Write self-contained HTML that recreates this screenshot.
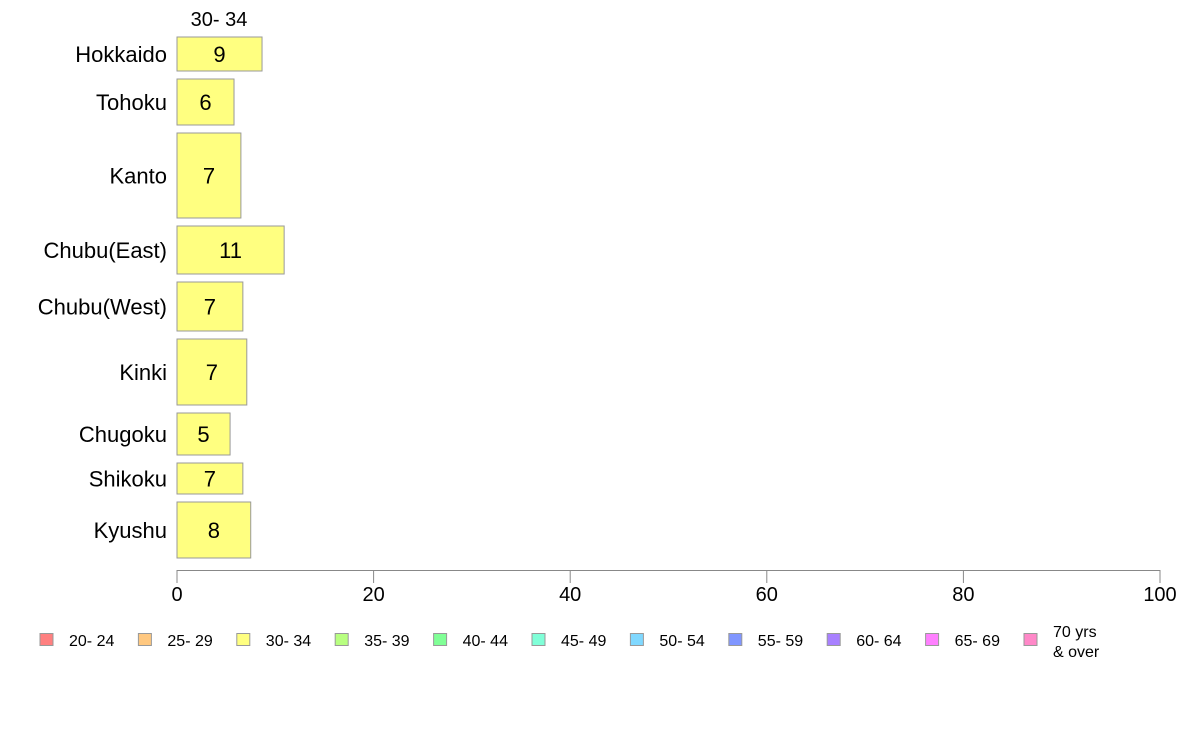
<!DOCTYPE html>
<html><head><meta charset="utf-8">
<style>
html,body{margin:0;padding:0;background:#fff;}
svg text{font-family:"Liberation Sans",Arial,sans-serif;}
</style></head>
<body>
<svg id="chart" width="1188" height="736" xmlns="http://www.w3.org/2000/svg"></svg>
<script>
const regions = ["Hokkaido","Tohoku","Kanto","Chubu(East)","Chubu(West)","Kinki","Chugoku","Shikoku","Kyushu"];
const values = [8.65,5.8,6.5,10.9,6.7,7.1,5.4,6.7,7.5];
const valueLabels = ["9","6","7","11","7","7","5","7","8"];
const rowWeights = [34,46,85,48,49,66,42,31,56];
const xTicks = [0,20,40,60,80,100];
const legendLabels = ["20- 24","25- 29","30- 34","35- 39","40- 44","45- 49","50- 54","55- 59","60- 64","65- 69","70 yrs|& over"];
const legendColors = ["#ff8080","#ffc880","#ffff80","#b8ff80","#80ff96","#80ffd8","#80d8ff","#8096ff","#a880ff","#ff80ff","#ff88c8"];

const svgEl = document.getElementById('chart');
const NS = 'http://www.w3.org/2000/svg';
function mk(tag, attrs, parent){const e=document.createElementNS(NS,tag);for(const k in attrs)e.setAttribute(k,attrs[k]);(parent||svgEl).appendChild(e);return e;}
const x0=177, x1=1160, xMax=100;
const xs = v => x0 + (v/xMax)*(x1-x0);
const topY=37, gap=8, totalH=558-37;
const sumW = rowWeights.reduce((a,b)=>a+b,0);
const unit = (totalH - gap*(regions.length-1))/sumW;

const header = mk('text',{x:219,y:26,'font-size':20,'text-anchor':'middle',fill:'#000'});


header.textContent='30- 34';

let yy=topY;
regions.forEach((r,i)=>{
  const h=rowWeights[i]*unit;
  const bar=mk('rect',{x:x0,y:yy,width:xs(values[i])-x0,height:h,fill:'#ffff80',stroke:'#999','stroke-width':1});
  
  
  const vl=mk('text',{x:(x0+xs(values[i]))/2,y:yy+h/2+8,'font-size':22,'text-anchor':'middle',fill:'#000'});
  
  
  vl.textContent=valueLabels[i];
  const cl=mk('text',{x:167,y:yy+h/2+8,'font-size':22,'text-anchor':'end',fill:'#000'});
  
  
  cl.textContent=r;
  yy+=h+gap;
});

const axis=mk('line',{x1:x0,y1:570.5,x2:x1,y2:570.5,stroke:'#888','stroke-width':1});


xTicks.forEach(t=>{
  const tk=mk('line',{x1:xs(t),y1:570,x2:xs(t),y2:583,stroke:'#888','stroke-width':1});
  
  
  const tl=mk('text',{x:xs(t),y:601,'font-size':20,'text-anchor':'middle',fill:'#000'});
  
  
  tl.textContent=t;
});

legendLabels.forEach((l,i)=>{
  const lx=40+i*98.4;
  const sw=mk('rect',{x:lx,y:633.5,width:13,height:12,fill:legendColors[i],stroke:'#999','stroke-width':1});
  
  
  const parts=l.split('|');
  if(parts.length===1){
    const t=mk('text',{x:lx+29,y:646,'font-size':16,fill:'#000'});
    
    
    t.textContent=l;
  } else {
    parts.forEach((p,j)=>{
      const t=mk('text',{x:lx+29,y:637+j*20,'font-size':16,fill:'#000'});
      
      
      t.textContent=p;
    });
  }
});
</script>
</body></html>
